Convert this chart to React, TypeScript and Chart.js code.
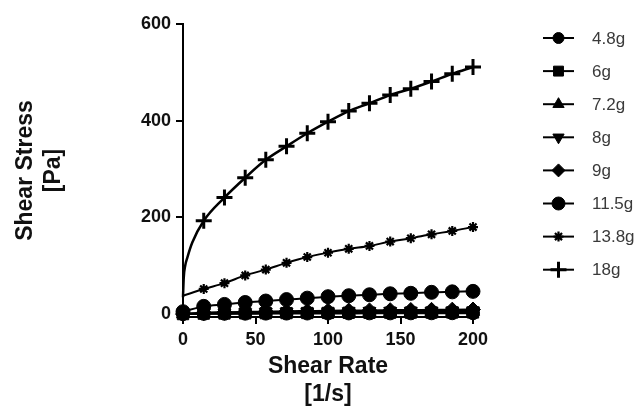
import React, { useEffect, useRef } from 'react';
import { Chart, registerables } from 'chart.js';
import { drawPoint } from 'chart.js/helpers';

Chart.register(...registerables);

// ---- data ----
const shearRate = [0, 14.3, 28.6, 42.9, 57.1, 71.4, 85.7, 100, 114.3, 128.6, 142.9, 157.1, 171.4, 185.7, 200];
const seriesLabels = ['4.8g', '6g', '7.2g', '8g', '9g', '11.5g', '13.8g', '18g'];
const stress4_8 = [0, 0.5, 0.7, 0.9, 1.0, 1.1, 1.2, 1.3, 1.4, 1.5, 1.5, 1.6, 1.7, 1.8, 1.8];
const stress6 = [0, 1.0, 1.3, 1.6, 1.9, 2.1, 2.3, 2.5, 2.7, 2.8, 3.0, 3.1, 3.2, 3.4, 3.5];
const stress7_2 = [0, 1.5, 2.0, 2.4, 2.8, 3.1, 3.4, 3.7, 4.0, 4.2, 4.4, 4.6, 4.8, 5.0, 5.2];
const stress8 = [0, 2.0, 2.7, 3.3, 3.8, 4.2, 4.6, 5.0, 5.3, 5.6, 5.9, 6.2, 6.4, 6.7, 6.9];
const stress9 = [0, 3.0, 4.0, 4.7, 5.3, 5.9, 6.4, 6.9, 7.3, 7.7, 8.1, 8.5, 8.8, 9.2, 9.5];
const stress11_5 = [5, 16, 20, 24, 27, 30, 33, 36, 38, 40, 42, 43, 45, 46, 47];
const stress13_8 = [38, 52, 64, 80, 92, 106, 118, 127, 135, 141, 150, 157, 165, 172, 180];
const stress18 = [35, 193, 241, 282, 319, 347, 374, 398, 420, 436, 453, 466, 481, 497, 511];
// fitted curve of 18g close to the origin (no markers there)
const curve18Rate = [0.5, 1.5, 3, 6.4];
const curve18Stress = [75, 100, 117, 148];

const xTicks = [0, 50, 100, 150, 200];
const yTicks = [0, 200, 400, 600];

// ---- styles ----
const FONT = '"Liberation Sans", Arial, Helvetica, sans-serif';
const markerStyles = [
  { pointStyle: 'circle', radius: 6.5, legendRadius: 5.5, rotation: 0, bw: 1 },
  { pointStyle: 'rect', radius: 8, legendRadius: 7, rotation: 0, bw: 1 },
  { pointStyle: 'triangle', radius: 7.5, legendRadius: 6.5, rotation: 0, bw: 1 },
  { pointStyle: 'triangle', radius: 7.5, legendRadius: 6.5, rotation: 180, bw: 1 },
  { pointStyle: 'rectRot', radius: 7.5, legendRadius: 6.5, rotation: 0, bw: 1 },
  { pointStyle: 'circle', radius: 7, legendRadius: 6.5, rotation: 0, bw: 1 },
  { pointStyle: 'star', radius: 5, legendRadius: 5, rotation: 0, bw: 2.2 },
  { pointStyle: 'cross', radius: 8, legendRadius: 8, rotation: 0, bw: 3 },
];
const hideFirstMarker = [false, false, false, false, false, false, true, true];

const sideLegend = {
  id: 'sideLegend',
  afterDraw(chart: any) {
    const ctx = chart.ctx;
    seriesLabels.forEach((label, i) => {
      const y = 38 + i * 33.1;
      const m = markerStyles[i];
      ctx.save();
      ctx.strokeStyle = '#000';
      ctx.fillStyle = '#000';
      ctx.lineWidth = 2;
      ctx.beginPath();
      ctx.moveTo(543, y);
      ctx.lineTo(574, y);
      ctx.stroke();
      ctx.lineWidth = m.bw;
      drawPoint(ctx, { pointStyle: m.pointStyle, radius: m.legendRadius, rotation: m.rotation, borderWidth: m.bw }, 558.5, y);
      ctx.fillStyle = '#3a3a3a';
      ctx.font = `17px ${FONT}`;
      ctx.textAlign = 'left';
      ctx.textBaseline = 'middle';
      ctx.fillText(label, 592, y + 1);
      ctx.restore();
    });
  },
};

export default function App() {
  const ref = useRef<HTMLCanvasElement | null>(null);

  useEffect(() => {
    if (!ref.current) return;
    const all = [stress4_8, stress6, stress7_2, stress8, stress9, stress11_5, stress13_8, stress18];
    const datasets = all.map((vals, i) => {
      const m = markerStyles[i];
      let pts = shearRate.map((x, j) => ({ x, y: vals[j] }));
      let radii = shearRate.map((_, j) => (j === 0 && hideFirstMarker[i] ? 0 : m.radius));
      if (i === 7) {
        const extra = curve18Rate.map((x, j) => ({ x, y: curve18Stress[j] }));
        pts = [pts[0], ...extra, ...pts.slice(1)];
        radii = [0, ...extra.map(() => 0), ...radii.slice(1)];
      }
      return {
        label: seriesLabels[i],
        data: pts,
        borderColor: '#000',
        backgroundColor: '#000',
        pointBackgroundColor: '#000',
        pointBorderColor: '#000',
        borderWidth: i === 7 ? 2.5 : 2,
        pointStyle: m.pointStyle,
        pointRotation: m.rotation,
        pointRadius: radii,
        pointBorderWidth: m.bw,
        cubicInterpolationMode: 'monotone',
        clip: false,
      };
    });

    const chart = new Chart(ref.current, {
      type: 'line',
      data: { datasets } as any,
      options: {
        responsive: false,
        animation: false,
        devicePixelRatio: 1,
        layout: { padding: { top: 24, right: 168, left: 0, bottom: 0 } },
        plugins: { legend: { display: false }, tooltip: { enabled: false } },
        scales: {
          x: {
            type: 'linear',
            min: 0,
            max: 200,
            afterFit: (s: any) => { s.height = 98; },
            afterBuildTicks: (s: any) => { s.ticks = xTicks.map((v) => ({ value: v })); },
            grid: { drawOnChartArea: false, drawTicks: true, tickLength: 7, color: '#000', lineWidth: 2 },
            border: { display: true, color: '#000', width: 2 },
            ticks: { font: { family: FONT, size: 18, weight: 'bold' }, color: '#111', padding: 5, maxRotation: 0 },
            title: {
              display: true,
              text: ['Shear Rate', '[1/s]'],
              font: { family: FONT, size: 23, weight: 'bold', lineHeight: 28 / 23 },
              color: '#111',
              padding: { top: 0, bottom: 6 },
            },
          },
          y: {
            type: 'linear',
            min: -6,
            max: 600,
            afterFit: (s: any) => { s.width = 183; },
            afterBuildTicks: (s: any) => { s.ticks = yTicks.map((v) => ({ value: v })); },
            grid: { drawOnChartArea: false, drawTicks: true, tickLength: 7, color: '#000', lineWidth: 2 },
            border: { display: true, color: '#000', width: 2 },
            ticks: { font: { family: FONT, size: 18, weight: 'bold' }, color: '#111', padding: 5 },
            title: {
              display: true,
              text: ['Shear Stress', '[Pa]'],
              font: { family: FONT, size: 23, weight: 'bold', lineHeight: 28 / 23 },
              color: '#111',
              padding: { top: 12, bottom: 0 },
            },
          },
        },
      } as any,
      plugins: [sideLegend],
    });
    return () => chart.destroy();
  }, []);

  return (
    <div style={{ position: 'absolute', left: 0, top: 0, width: 641, height: 415, background: '#fff' }}>
      <canvas ref={ref} width={641} height={415} style={{ width: 641, height: 415, display: 'block' }} />
    </div>
  );
}
